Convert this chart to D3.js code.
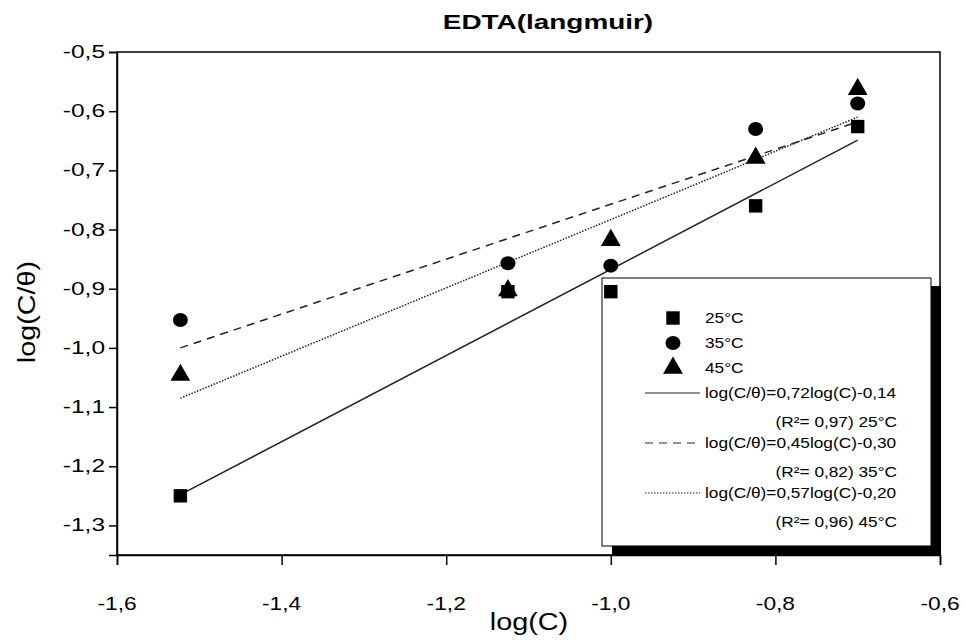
<!DOCTYPE html>
<html><head><meta charset="utf-8">
<script src="https://cdn.jsdelivr.net/npm/d3@7"></script>
<style>body{margin:0;background:#fff;} text{font-family:"Liberation Sans",Arial,sans-serif;}</style>
</head><body>
<svg id="c" width="965" height="640"></svg>
<script>
const xTicks = [-1.6, -1.4, -1.2, -1.0, -0.8, -0.6];
const yTicks = [-0.5, -0.6, -0.7, -0.8, -0.9, -1.0, -1.1, -1.2, -1.3];
const logC = [-1.523, -1.125, -1.0, -0.824, -0.7];
const s25 = [-1.25, -0.905, -0.905, -0.760, -0.626];
const s35 = [-0.953, -0.857, -0.861, -0.630, -0.587];
const s45 = [-1.046, -0.903, -0.818, -0.679, -0.563];
const fitX = [-1.523, -0.7];
const fit25 = [-1.248, -0.649];
const fit35 = [-1.0, -0.618];
const fit45 = [-1.085, -0.610];
const legendLabels = ["25°C", "35°C", "45°C"];
const eqLabels = ["log(C/θ)=0,72log(C)-0,14", "log(C/θ)=0,45log(C)-0,30", "log(C/θ)=0,57log(C)-0,20"];
const r2Labels = ["(R²= 0,97) 25°C", "(R²= 0,82) 35°C", "(R²= 0,96) 45°C"];

const svg = d3.select("#c");
const L = 117, R = 940, T = 52, B = 555;
const x = d3.scaleLinear().domain([-1.6, -0.6]).range([L, R]);
const y = d3.scaleLinear().domain([-1.35, -0.5]).range([B, T]);
const fmt = d => d3.format(".1f")(d).replace(".", ",").replace("−", "-");

function stext(g, px, py, str, size, sx, anchor, extra) {
  return g.append("text").attr("transform", `translate(${px},${py}) scale(${sx},1)${extra || ""}`)
    .attr("font-size", size).attr("text-anchor", anchor || "start").attr("fill", "#000").text(str);
}

stext(svg, 548, 29, "EDTA(langmuir)", 21, 1.33, "middle").attr("font-weight", "bold");

svg.append("rect").attr("x", L).attr("y", T).attr("width", R - L).attr("height", B - T)
  .attr("fill", "none").attr("stroke", "#000").attr("stroke-width", 1.5);

const xa = svg.append("g").attr("transform", `translate(0,${B})`)
  .call(d3.axisBottom(x).tickValues(xTicks).tickFormat("").tickSize(10));
const ya = svg.append("g").attr("transform", `translate(${L},0)`)
  .call(d3.axisLeft(y).tickValues(yTicks).tickFormat("").tickSize(8));
[xa, ya].forEach(g => {
  g.select(".domain").attr("stroke-width", 1.5);
  g.selectAll(".tick line").attr("stroke-width", 1.5);
});
xTicks.forEach(v => stext(svg, x(v), B + 55, fmt(v), 17.5, 1.3, "middle"));
yTicks.forEach(v => stext(svg, L - 12, y(v) + 6, fmt(v), 17.5, 1.4, "end"));

stext(svg, 529, 630, "log(C)", 24, 1.2, "middle");
stext(svg, 35, 312, "log(C/θ)", 24, 1, "middle", " rotate(-90) scale(1.2,1)");

const line = d3.line().x(d => x(d[0])).y(d => y(d[1]));
const styles = [null, "8,6", "1.5,1.5"];
[fit25, fit35, fit45].forEach((f, i) => {
  svg.append("path").datum(fitX.map((v, j) => [v, f[j]])).attr("d", line)
    .attr("fill", "none").attr("stroke", "#222").attr("stroke-width", 1.5)
    .attr("stroke-dasharray", styles[i]);
});

const lx = 602, ly = 278, lw = 329, lh = 268;
svg.append("rect").attr("x", lx + 10).attr("y", ly + 8).attr("width", lw).attr("height", B - ly - 8).attr("fill", "#000");
svg.append("rect").attr("x", lx).attr("y", ly).attr("width", lw).attr("height", lh)
  .attr("fill", "#fff").attr("stroke", "#000").attr("stroke-width", 1);

const sym = [d3.symbolSquare, d3.symbolCircle, d3.symbolTriangle];
const sizes = [180, 170, 170];
function marker(g, i, cx, cy) {
  if (i === 1) {
    g.append("ellipse").attr("cx", cx).attr("cy", cy).attr("rx", 7.5).attr("ry", 7).attr("fill", "#000");
  } else {
    g.append("path").attr("d", d3.symbol(sym[i], sizes[i])()).attr("transform", `translate(${cx},${cy})`).attr("fill", "#000");
  }
}
const lg = svg.append("g");
legendLabels.forEach((t, i) => {
  marker(lg, i, 673, 318 + i * 25);
  stext(lg, 705, 323 + i * 25, t, 15, 1.15);
});
eqLabels.forEach((t, i) => {
  const yy = 393 + i * 50;
  lg.append("line").attr("x1", 645).attr("x2", 700).attr("y1", yy).attr("y2", yy)
    .attr("stroke", "#222").attr("stroke-width", 1.2).attr("stroke-dasharray", styles[i]);
  stext(lg, 705, yy + 5, t, 15, 1.15);
  stext(lg, 897, yy + 34, r2Labels[i], 15, 1.15, "end");
});

const pts = svg.append("g");
[s25, s35, s45].forEach((s, i) => {
  s.forEach((v, j) => marker(pts, i, x(logC[j]), y(v)));
});
</script>
</body></html>
